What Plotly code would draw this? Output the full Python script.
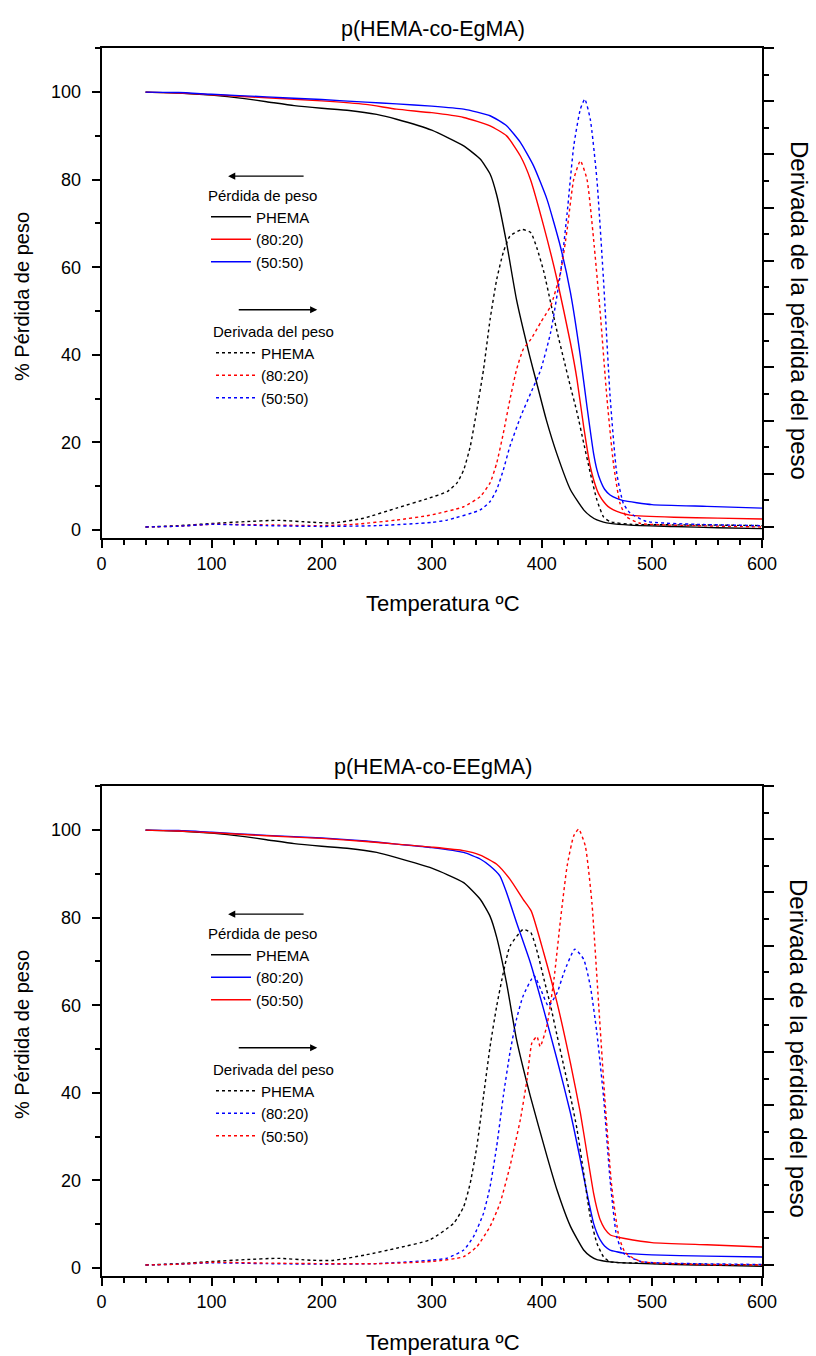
import plotly.graph_objects as go

# ---------------- p(HEMA-co-EgMA) ----------------
# Weight loss (%) vs temperature
t_phema_a = [40, 70, 100, 130, 150, 175, 200, 225, 250, 268, 300, 329, 344, 353, 359, 368, 377, 389, 395, 404, 413.5, 426, 438, 444, 450, 456, 462, 480, 520, 560, 600]
w_phema_a = [100, 99.8, 99.3, 98.5, 97.8, 96.9, 96.3, 95.8, 94.9, 93.8, 91.3, 87.7, 84.7, 81.3, 76.5, 65.5, 52.6, 39.7, 33.9, 25.2, 17.5, 9.2, 4.6, 3.2, 2.3, 1.8, 1.5, 1.1, 0.8, 0.5, 0.3]

t_8020_a = [40, 70, 100, 150, 200, 240, 268, 300, 329, 353, 368, 380.5, 389.6, 401.7, 413.8, 426, 432, 438, 444, 450, 453, 456, 460, 465, 472, 480, 520, 560, 600]
w_8020_a = [100, 99.8, 99.4, 98.7, 98.0, 97.2, 96.1, 95.3, 94.2, 92.3, 90.0, 85.4, 80.1, 69.4, 57.2, 42.7, 34.3, 23.6, 14.5, 9.2, 7.6, 6.5, 5.4, 4.6, 3.9, 3.4, 2.9, 2.7, 2.5]

t_5050_a = [40, 70, 100, 150, 200, 240, 268, 300, 329, 353, 368, 380.5, 392.6, 404.7, 416.8, 426, 435, 441, 447, 450, 453, 457, 462, 468, 474, 500, 550, 600]
w_5050_a = [100, 99.9, 99.5, 98.9, 98.3, 97.7, 97.3, 96.8, 96.1, 94.6, 92.3, 88.5, 83.1, 75.5, 64.8, 54.2, 39.7, 28.2, 17.5, 13.8, 11.4, 9.3, 8.0, 7.2, 6.7, 5.8, 5.4, 5.0]

# Derivative of weight loss (arbitrary units, right axis)
td_phema_a = [40, 70, 100, 130, 160, 190, 210, 238, 268, 298, 314, 323, 329, 335, 341, 347, 353, 359, 365, 371, 382, 390, 396, 402, 408, 414, 420, 426, 432, 438, 444, 450, 456, 462, 480, 520, 560, 600]
d_phema_a = [0.0, 0.005, 0.013, 0.020, 0.025, 0.018, 0.015, 0.033, 0.071, 0.109, 0.133, 0.166, 0.214, 0.303, 0.441, 0.591, 0.780, 0.930, 1.032, 1.093, 1.118, 1.106, 1.042, 0.956, 0.843, 0.731, 0.629, 0.527, 0.430, 0.316, 0.203, 0.102, 0.038, 0.020, 0.010, 0.008, 0.007, 0.005]

td_8020_a = [40, 70, 100, 150, 200, 230, 268, 298, 329, 344, 353, 359, 365, 371, 377, 383, 390, 399, 408, 417, 423, 429, 435, 441, 447, 453, 459, 465, 471, 477, 490, 540, 600]
d_8020_a = [0.0, 0.003, 0.010, 0.008, 0.005, 0.010, 0.026, 0.044, 0.076, 0.114, 0.166, 0.240, 0.352, 0.478, 0.591, 0.667, 0.705, 0.769, 0.830, 0.956, 1.118, 1.307, 1.376, 1.307, 1.082, 0.807, 0.491, 0.240, 0.089, 0.038, 0.013, 0.005, 0.0]

td_5050_a = [40, 70, 100, 150, 200, 250, 300, 314, 344, 353, 359, 365, 371, 381, 390, 399, 408, 417, 423, 429, 435, 439, 444, 450, 456, 462, 468, 474, 480, 495, 540, 600]
d_5050_a = [0.0, 0.003, 0.010, 0.005, 0.002, 0.005, 0.017, 0.026, 0.064, 0.096, 0.140, 0.214, 0.303, 0.417, 0.504, 0.591, 0.731, 0.956, 1.180, 1.432, 1.570, 1.608, 1.533, 1.307, 0.930, 0.491, 0.203, 0.089, 0.053, 0.021, 0.010, 0.005]

# ---------------- p(HEMA-co-EEgMA) ----------------
t_phema_b = [40, 70, 100, 130, 150, 175, 200, 225, 250, 268, 300, 329, 344, 353, 359, 368, 377, 389.6, 404.7, 413.8, 426, 438, 444, 450, 456, 462, 480, 520, 560, 600]
w_phema_b = [100, 99.8, 99.3, 98.5, 97.8, 96.9, 96.3, 95.8, 94.9, 93.7, 91.3, 88.0, 84.2, 80.3, 75.5, 65.0, 52.2, 39.2, 25.5, 17.8, 9.5, 4.1, 2.7, 1.9, 1.6, 1.4, 1.1, 0.8, 0.6, 0.4]

t_8020_b = [40, 70, 100, 150, 200, 240, 268, 300, 329, 344, 353, 362, 368, 377, 389.6, 401.7, 413.8, 426, 435, 441, 447, 450, 453, 457, 462, 468, 474, 500, 550, 600]
w_8020_b = [100, 99.9, 99.5, 98.8, 98.2, 97.5, 96.8, 96.0, 94.9, 93.4, 91.8, 89.5, 85.7, 78.9, 69.7, 59.0, 47.6, 35.4, 24.7, 17.1, 10.2, 8.0, 6.4, 5.0, 4.1, 3.7, 3.4, 3.0, 2.7, 2.5]

t_5050_b = [40, 70, 100, 150, 200, 240, 268, 300, 329, 344, 359, 371, 383, 390.4, 401.7, 413.8, 426, 435, 441, 447, 450, 453, 457, 462, 468, 474, 500, 550, 600]
w_5050_b = [100, 99.8, 99.4, 98.7, 98.1, 97.4, 96.8, 96.1, 95.3, 94.3, 92.2, 88.8, 84.2, 81.5, 72.0, 60.6, 46.8, 35.4, 26.2, 17.1, 13.6, 11.0, 9.0, 7.6, 7.1, 6.8, 5.8, 5.3, 4.8]

td_phema_b = [40, 70, 100, 130, 160, 190, 210, 240, 268, 298, 320, 329, 335, 341, 347, 353, 359, 365, 371, 383, 390, 396, 402, 408, 414, 420, 426, 432, 438, 444, 450, 456, 462, 490, 540, 600]
d_phema_b = [0.0, 0.005, 0.013, 0.020, 0.025, 0.018, 0.017, 0.038, 0.063, 0.094, 0.157, 0.219, 0.308, 0.446, 0.634, 0.821, 0.973, 1.098, 1.198, 1.261, 1.249, 1.174, 1.073, 0.973, 0.859, 0.747, 0.634, 0.509, 0.346, 0.181, 0.082, 0.031, 0.012, 0.007, 0.003, 0.0]

td_8020_b = [40, 70, 100, 150, 200, 250, 300, 314, 329, 338, 347, 353, 359, 365, 371, 377, 383, 393, 399, 406, 414, 420, 430, 438, 444, 450, 456, 462, 468, 474, 490, 540, 600]
d_8020_b = [0.0, 0.003, 0.008, 0.005, 0.003, 0.005, 0.018, 0.026, 0.056, 0.107, 0.194, 0.295, 0.446, 0.634, 0.797, 0.924, 1.011, 1.087, 1.036, 0.973, 1.024, 1.098, 1.187, 1.149, 1.049, 0.872, 0.634, 0.320, 0.107, 0.045, 0.013, 0.005, 0.002]

td_5050_b = [40, 70, 100, 150, 200, 250, 300, 329, 341, 353, 362, 371, 380.5, 386.5, 391, 395.5, 398.5, 404.5, 411, 417, 423, 429, 433.5, 439.5, 445.5, 451.5, 457.5, 463.5, 470, 476, 490, 540, 600]
d_5050_b = [0.0, 0.003, 0.010, 0.007, 0.005, 0.005, 0.013, 0.031, 0.069, 0.145, 0.232, 0.370, 0.547, 0.696, 0.835, 0.859, 0.821, 0.897, 1.073, 1.299, 1.500, 1.613, 1.638, 1.575, 1.361, 0.986, 0.609, 0.295, 0.107, 0.045, 0.013, 0.002, 0.0]

series_names = ["PHEMA", "(80:20)", "(50:50)"]
heading_weight = "Pérdida de peso"
heading_deriv = "Derivada del peso"

FONT = "Liberation Sans, Arial, sans-serif"
BLACK, RED, BLUE = "#000000", "#ff0000", "#0000ff"
W, H = 816, 1356

fig = go.Figure()

panels = [
    dict(title="p(HEMA-co-EgMA)", x="x", yl="y", yr="y2", top=48, bottom=538,
         weight=[(t_phema_a, w_phema_a, BLACK), (t_8020_a, w_8020_a, RED), (t_5050_a, w_5050_a, BLUE)],
         deriv=[(td_phema_a, d_phema_a, BLACK), (td_8020_a, d_8020_a, RED), (td_5050_a, d_5050_a, BLUE)],
         leg_w="legend", leg_d="legend2"),
    dict(title="p(HEMA-co-EEgMA)", x="x2", yl="y3", yr="y4", top=786, bottom=1276,
         weight=[(t_phema_b, w_phema_b, BLACK), (t_8020_b, w_8020_b, BLUE), (t_5050_b, w_5050_b, RED)],
         deriv=[(td_phema_b, d_phema_b, BLACK), (td_8020_b, d_8020_b, BLUE), (td_5050_b, d_5050_b, RED)],
         leg_w="legend3", leg_d="legend4"),
]

for p in panels:
    for name, (t, w, c) in zip(series_names, p["weight"]):
        fig.add_trace(go.Scatter(x=t, y=w, mode="lines", name=name, xaxis=p["x"], yaxis=p["yl"],
                                 line=dict(color=c, width=1.4, shape="spline", smoothing=0.5),
                                 legend=p["leg_w"], showlegend=True))
    for name, (t, d, c) in zip(series_names, p["deriv"]):
        fig.add_trace(go.Scatter(x=t, y=d, mode="lines", name=name, xaxis=p["x"], yaxis=p["yr"],
                                 line=dict(color=c, width=1.4, dash="dot", shape="spline", smoothing=0.5),
                                 legend=p["leg_d"], showlegend=True))

X0, X1 = 101.5, 762
xdom = [X0 / W, X1 / W]

def ydom(top, bottom):
    return [1 - bottom / H, 1 - top / H]

axis_common = dict(showline=True, linecolor="black", linewidth=1.8, showgrid=False, zeroline=False,
                   ticks="outside", tickcolor="black", tickwidth=1.5,
                   tickfont=dict(family=FONT, size=18, color="black"))

layout = dict(width=W, height=H, autosize=False, margin=dict(l=0, r=0, t=0, b=0, autoexpand=False),
              paper_bgcolor="white", plot_bgcolor="white", font=dict(family=FONT, color="black"))

annotations = []
for i, p in enumerate(panels):
    xa = "xaxis" if i == 0 else "xaxis2"
    yl = "yaxis" if i == 0 else "yaxis3"
    yr = "yaxis2" if i == 0 else "yaxis4"
    yd = ydom(p["top"], p["bottom"])
    layout[xa] = dict(axis_common, domain=xdom, anchor=p["yl"], range=[0, 600], tickmode="linear",
                      tick0=0, dtick=100, ticklen=8, mirror=True,
                      minor=dict(ticks="outside", dtick=20, ticklen=5, tickcolor="black", tickwidth=1.5))
    layout[yl] = dict(axis_common, domain=yd, anchor=p["x"], range=[-1.83, 110.07], tickmode="linear",
                      tick0=0, dtick=20, ticklen=8, ticklabelstandoff=7,
                      minor=dict(ticks="outside", dtick=10, ticklen=5, tickcolor="black", tickwidth=1.5))
    layout[yr] = dict(axis_common, overlaying=p["yl"], side="right", anchor=p["x"], range=[-0.0414, 1.800],
                      tickmode="linear", tick0=0, dtick=0.2, ticklen=10, showticklabels=False,
                      minor=dict(ticks="outside", dtick=0.1, ticklen=5, tickcolor="black", tickwidth=1.5))

    top, bottom = p["top"], p["bottom"]
    # panel title
    annotations.append(dict(text=p["title"], xref="paper", yref="paper", x=433 / W, y=1 - (top - 19) / H,
                            showarrow=False, font=dict(family=FONT, size=21.5, color="black"),
                            xanchor="center", yanchor="middle"))
    # axis titles
    annotations.append(dict(text="Temperatura ºC", xref="paper", yref="paper", x=443 / W,
                            y=1 - (bottom + 66) / H, showarrow=False,
                            font=dict(family=FONT, size=22, color="black"), xanchor="center", yanchor="middle"))
    annotations.append(dict(text="% Pérdida de peso", xref="paper", yref="paper", x=22 / W,
                            y=1 - (top + 249) / H, showarrow=False, textangle=-90,
                            font=dict(family=FONT, size=20, color="black"), xanchor="center", yanchor="middle"))
    annotations.append(dict(text="Derivada de la pérdida del peso", xref="paper", yref="paper", x=799 / W,
                            y=1 - (top + 262) / H, showarrow=False, textangle=90,
                            font=dict(family=FONT, size=24, color="black"), xanchor="center", yanchor="middle"))
    # direction arrows for the two legend groups
    annotations.append(dict(x=115, y=80.8, xref=p["x"], yref=p["yl"], ax=77, ay=0, axref="pixel",
                            ayref="pixel", text="", showarrow=True, arrowhead=2, arrowsize=1.1,
                            arrowwidth=1.3, arrowcolor="black"))
    annotations.append(dict(x=196, y=50.3, xref=p["x"], yref=p["yl"], ax=-80, ay=0, axref="pixel",
                            ayref="pixel", text="", showarrow=True, arrowhead=2, arrowsize=1.1,
                            arrowwidth=1.3, arrowcolor="black"))

    # legends
    leg_font = dict(family=FONT, size=15, color="black")
    layout[p["leg_w"]] = dict(x=206 / W, y=1 - (top + 133) / H, xanchor="left", yanchor="top",
                              bgcolor="rgba(0,0,0,0)", font=leg_font, tracegroupgap=0,
                              title=dict(text=heading_weight, font=leg_font), itemwidth=40)
    layout[p["leg_d"]] = dict(x=211 / W, y=1 - (top + 269) / H, xanchor="left", yanchor="top",
                              bgcolor="rgba(0,0,0,0)", font=leg_font, tracegroupgap=0,
                              title=dict(text=heading_deriv, font=leg_font), itemwidth=40)

layout["annotations"] = annotations
fig.update_layout(**layout)
fig.write_html("out.html", config={"responsive": False})
